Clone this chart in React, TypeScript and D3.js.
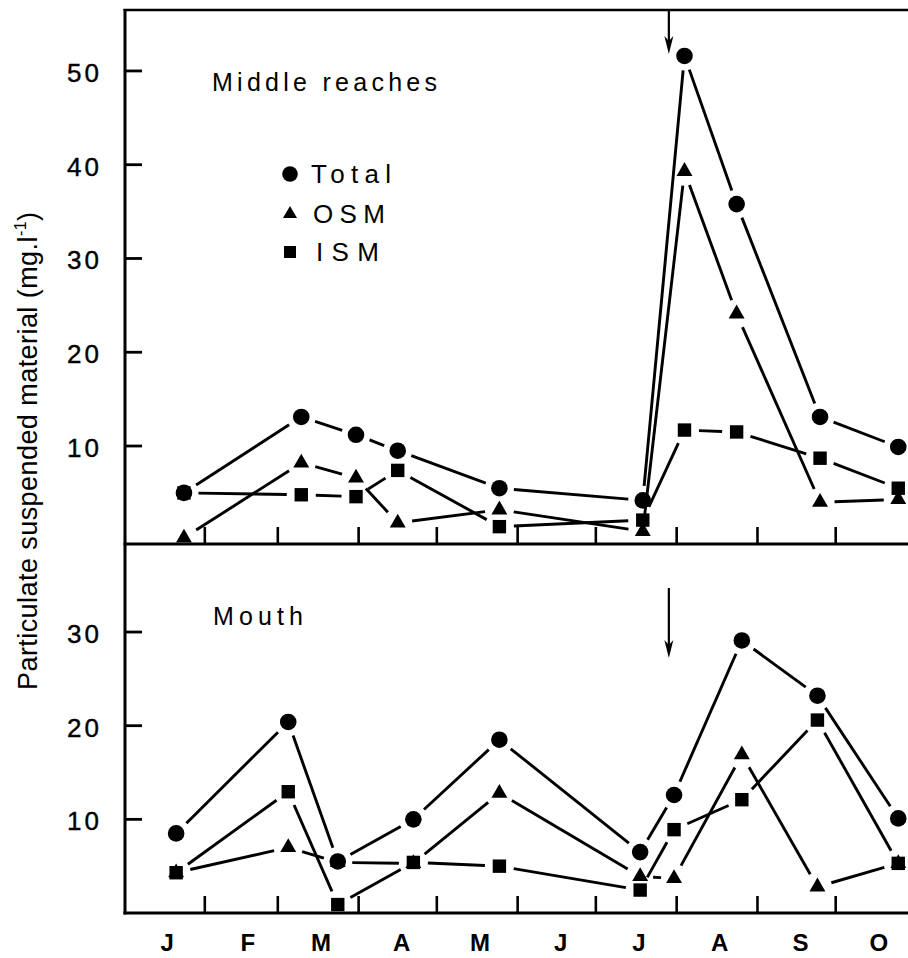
import React from 'react'
import * as d3 from 'd3'

const W = 908
const H = 958

// sampling dates and values (mg/l)
const months = ['J', 'F', 'M', 'A', 'M', 'J', 'J', 'A', 'S', 'O']

const upperDates = ['1987-01-24', '1987-03-10', '1987-03-31', '1987-04-16', '1987-05-25', '1987-07-19', '1987-08-04', '1987-08-24', '1987-09-25', '1987-10-25']
const upperTotal = [5.0, 13.1, 11.2, 9.5, 5.5, 4.2, 51.6, 35.8, 13.1, 9.9]
const upperOSM = [0.2, 8.2, 6.6, 1.8, 3.2, 0.9, 39.3, 24.1, 4.0, 4.3]
const upperISM = [5.0, 4.8, 4.6, 7.4, 1.4, 2.1, 11.7, 11.5, 8.7, 5.5]

const lowerDates = ['1987-01-21', '1987-03-05', '1987-03-24', '1987-04-22', '1987-05-25', '1987-07-18', '1987-07-31', '1987-08-26', '1987-09-24', '1987-10-25']
const lowerTotal = [8.5, 20.4, 5.5, 10.0, 18.5, 6.5, 12.6, 29.1, 23.2, 10.1]
const lowerOSM = [4.3, 7.0, 5.4, 5.3, 12.8, 3.9, 3.7, 16.9, 2.8, 5.3]
const lowerISM = [4.3, 12.95, 0.9, 5.4, 5.0, 2.45, 8.9, 12.1, 20.6, 5.3]

const upperTicks = [10, 20, 30, 40, 50]
const lowerTicks = [10, 20, 30]
const floodDate = '1987-07-29'

const parse = d3.utcParse('%Y-%m-%d')
const FONT = "'Liberation Sans', Arial, Helvetica, sans-serif"

const x = d3
  .scaleUtc()
  .domain([new Date(Date.UTC(1987, 0, 1)), new Date(Date.UTC(1987, 10, 1))])
  .range([124, 916.5])

const yUpper = d3.scaleLinear().domain([-0.45, 56.5]).range([544, 10])
const yLower = d3.scaleLinear().domain([0, 39.4]).range([913, 544])

const GAP = 14.5
const triPath = d3.symbol().type(d3.symbolTriangle).size(110)()
const triSmall = d3.symbol().type(d3.symbolTriangle).size(85)()

type Pt = { x: number; y: number }

const toPts = (dates: string[], vals: number[], y: d3.ScaleLinear<number, number>): Pt[] =>
  dates.map((d, i) => ({ x: x(parse(d) as Date), y: y(vals[i]) }))

// segments between markers, trimmed so they stop short of each symbol
const Segments = ({ pts }: { pts: Pt[] }) => (
  <g stroke='#000' strokeWidth={2.9} fill='none'>
    {d3.pairs(pts).map(([a, b], i) => {
      const dx = b.x - a.x
      const dy = b.y - a.y
      const len = Math.hypot(dx, dy)
      const g = Math.min(GAP, len / 2 - 4)
      if (g <= 8) return null
      const ux = dx / len
      const uy = dy / len
      return (
        <line key={i} x1={a.x + ux * g} y1={a.y + uy * g} x2={b.x - ux * g} y2={b.y - uy * g} />
      )
    })}
  </g>
)

const Markers = ({ pts, kind }: { pts: Pt[]; kind: string }) => (
  <g fill='#000'>
    {pts.map((p, i) => {
      if (kind === 'circle') return <circle key={i} cx={p.x} cy={p.y} r={8.3} />
      if (kind === 'square') return <rect key={i} x={p.x - 6.7} y={p.y - 6.7} width={13.4} height={13.4} />
      return <path key={i} d={triPath as string} transform={`translate(${p.x},${p.y})`} />
    })}
  </g>
)

const Panel = ({ dates, total, osm, ism, y, ticks, bottom }: any) => {
  const tp = toPts(dates, total, y)
  const op = toPts(dates, osm, y)
  const ip = toPts(dates, ism, y)
  const monthTicks = d3.utcMonth.range(new Date(Date.UTC(1987, 1, 1)), new Date(Date.UTC(1987, 9, 2)))
  return (
    <g>
      {ticks.map((t: number) => (
        <g key={t}>
          <line x1={125} x2={142} y1={y(t)} y2={y(t)} stroke='#000' strokeWidth={2.8} />
          <text x={102} y={y(t) + 11} textAnchor='end' fontSize={26} letterSpacing={3} stroke='#000' strokeWidth={0.4}>
            {t}
          </text>
        </g>
      ))}
      {monthTicks.map((m, i) => (
        <line key={i} x1={x(m)} x2={x(m)} y1={bottom} y2={bottom - 17} stroke='#000' strokeWidth={2.6} />
      ))}
      <line x1={123.5} x2={W} y1={bottom} y2={bottom} stroke='#000' strokeWidth={3} />
      <Segments pts={op} />
      <Segments pts={ip} />
      <Segments pts={tp} />
      <Markers pts={op} kind='tri' />
      <Markers pts={ip} kind='square' />
      <Markers pts={tp} kind='circle' />
    </g>
  )
}

const Arrow = ({ xa, y1, y2 }: { xa: number; y1: number; y2: number }) => (
  <g>
    <line x1={xa} x2={xa} y1={y1} y2={y2 - 12} stroke='#000' strokeWidth={2.2} />
    <path d={`M${xa - 4.5},${y2 - 18} L${xa},${y2} L${xa + 4.5},${y2 - 18} L${xa},${y2 - 13} Z`} fill='#000' />
  </g>
)

export default function App () {
  const xa = x(parse(floodDate) as Date)
  return (
    <svg
      width={W}
      height={H}
      style={{ position: 'absolute', left: 0, top: 0, background: '#fff' }}
      fontFamily={FONT}
    >
      <rect width={W} height={H} fill='#fff' />
      {/* frame */}
      <line x1={123.5} x2={W} y1={10} y2={10} stroke='#000' strokeWidth={2.6} />
      <line x1={125} x2={125} y1={9} y2={914.5} stroke='#000' strokeWidth={3} />

      <Panel dates={upperDates} total={upperTotal} osm={upperOSM} ism={upperISM} y={yUpper} ticks={upperTicks} bottom={544} />
      <Panel dates={lowerDates} total={lowerTotal} osm={lowerOSM} ism={lowerISM} y={yLower} ticks={lowerTicks} bottom={913} />

      <Arrow xa={xa} y1={10} y2={54} />
      <Arrow xa={xa} y1={588} y2={658} />

      {/* panel names */}
      <text x={212} y={91} fontSize={25} textLength={225} lengthAdjust='spacing'>Middle reaches</text>
      <text x={213} y={625} fontSize={25} textLength={90} lengthAdjust='spacing'>Mouth</text>

      {/* legend */}
      <circle cx={290} cy={174} r={7.8} fill='#000' />
      <text x={311} y={183} fontSize={26} textLength={80} lengthAdjust='spacing'>Total</text>
      <path d={triSmall as string} transform='translate(290,214)' fill='#000' />
      <text x={313} y={223} fontSize={26} textLength={72} lengthAdjust='spacing'>OSM</text>
      <rect x={284} y={246} width={12} height={12} fill='#000' />
      <text x={316} y={261} fontSize={26} textLength={63} lengthAdjust='spacing'>ISM</text>

      {/* month labels */}
      {months.map((m, i) => (
        <text
          key={i}
          x={x(new Date(Date.UTC(1987, i, 16))) + 4}
          y={951}
          textAnchor='middle'
          fontSize={24}
          fontWeight='bold'
        >
          {m}
        </text>
      ))}

      {/* y title */}
      <text
        transform='translate(37,451) rotate(-90)'
        textAnchor='middle'
        fontSize={27}
        textLength={478}
        lengthAdjust='spacing'
      >
        Particulate suspended material (mg.l
        <tspan fontSize={16} dy={-11}>-1</tspan>
        <tspan dy={11}>)</tspan>
      </text>
    </svg>
  )
}
